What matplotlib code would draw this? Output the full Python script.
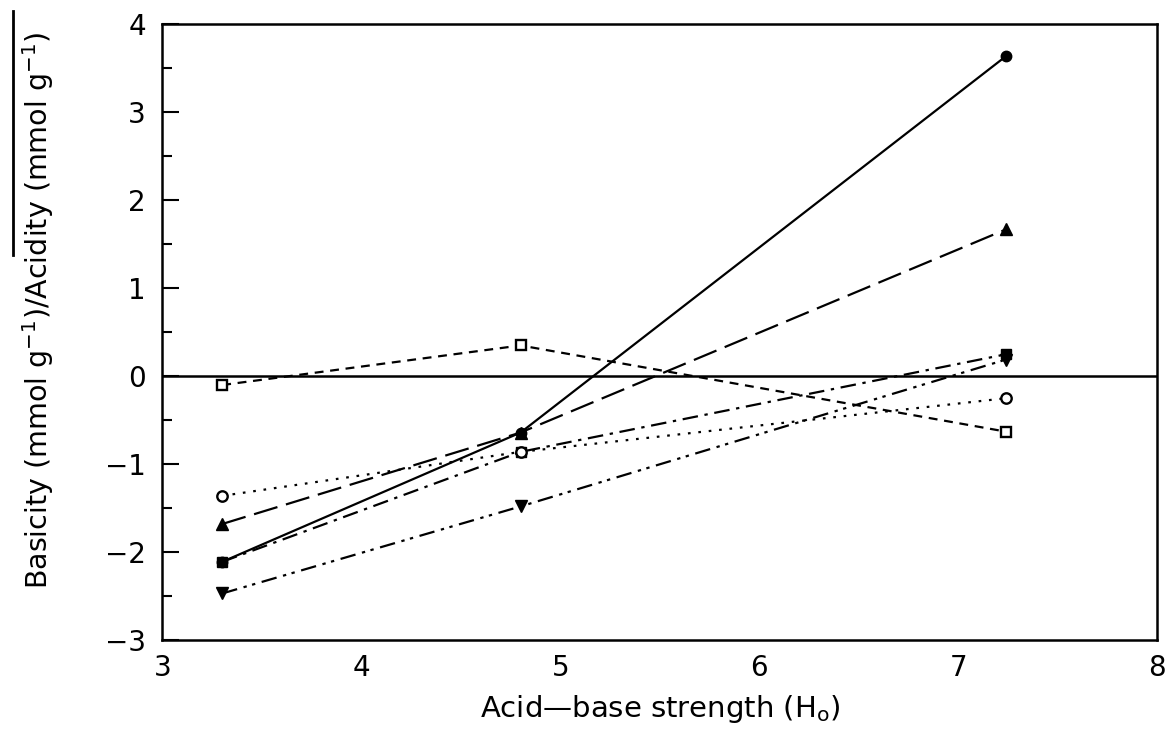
import matplotlib
matplotlib.use("Agg")
import matplotlib.pyplot as plt
from matplotlib.lines import Line2D

# Data
ho = [3.3, 4.8, 7.24]
s_filled_circle = [-2.11, -0.64, 3.64]
s_filled_triangle = [-1.68, -0.64, 1.67]
s_filled_square = [-2.11, -0.86, 0.25]
s_filled_invtri = [-2.47, -1.48, 0.19]
s_open_circle = [-1.36, -0.86, -0.25]
s_open_square = [-0.10, 0.35, -0.63]

xticks = [3, 4, 5, 6, 7, 8]
yticks = [-3, -2, -1, 0, 1, 2, 3, 4]

plt.rcParams['font.family'] = ['DejaVu Sans']

fig = plt.figure(figsize=(11.69, 7.40), dpi=100)
ax = fig.add_axes([0.139, 0.135, 0.851, 0.832])

lw = 1.6
ax.plot(ho, s_filled_circle, color='black', lw=lw, ls='-', marker='o', ms=7.5)
ax.plot(ho, s_filled_triangle, color='black', lw=lw, ls=(0, (11, 4)), marker='^', ms=8.5)
ax.plot(ho, s_filled_square, color='black', lw=lw, ls=(0, (7, 3, 1.5, 3)), marker='s', ms=7.5)
ax.plot(ho, s_filled_invtri, color='black', lw=lw, ls=(0, (7, 3, 1.5, 2.5, 1.5, 3)), marker='v', ms=8.5)
ax.plot(ho, s_open_circle, color='black', lw=lw, ls=(0, (1.2, 3.5)), marker='o', ms=7.5,
        mfc='white', mew=1.7)
ax.plot(ho, s_open_square, color='black', lw=lw, ls=(0, (4, 3)), marker='s', ms=7.5,
        mfc='white', mew=1.7)

ax.axhline(0, color='black', lw=1.8)

ax.set_xlim(3, 8)
ax.set_ylim(-3, 4)
ax.set_xticks(xticks)
ax.set_xticklabels([str(v) for v in xticks])
ax.set_yticks(yticks)
ax.set_yticklabels([str(v).replace('-', '\u2212') for v in yticks])
ax.set_yticks([v + 0.5 for v in yticks[:-1]], minor=True)

ax.tick_params(axis='x', length=0, pad=10, labelsize=20)
ax.tick_params(axis='y', which='major', direction='in', length=12, width=1.5, pad=12, labelsize=20)
ax.tick_params(axis='y', which='minor', direction='in', length=7, width=1.5)

for sp in ax.spines.values():
    sp.set_linewidth(1.8)

ax.set_xlabel('Acid\u2014base strength (H$_\\mathregular{o}$)', fontsize=21, labelpad=8)
ax.set_ylabel('Basicity (mmol g$^{\\mathregular{-1}}$)/Acidity (mmol g$^{\\mathregular{-1}}$)',
              fontsize=20.5)
ax.yaxis.set_label_coords(-0.107, 0.535)

# bar along the left edge of the ylabel (as in the scan)
fig.add_artist(Line2D([0.011, 0.011], [0.655, 0.985], color='black', lw=2,
                      transform=fig.transFigure))

fig.savefig('out.png', dpi=100)
